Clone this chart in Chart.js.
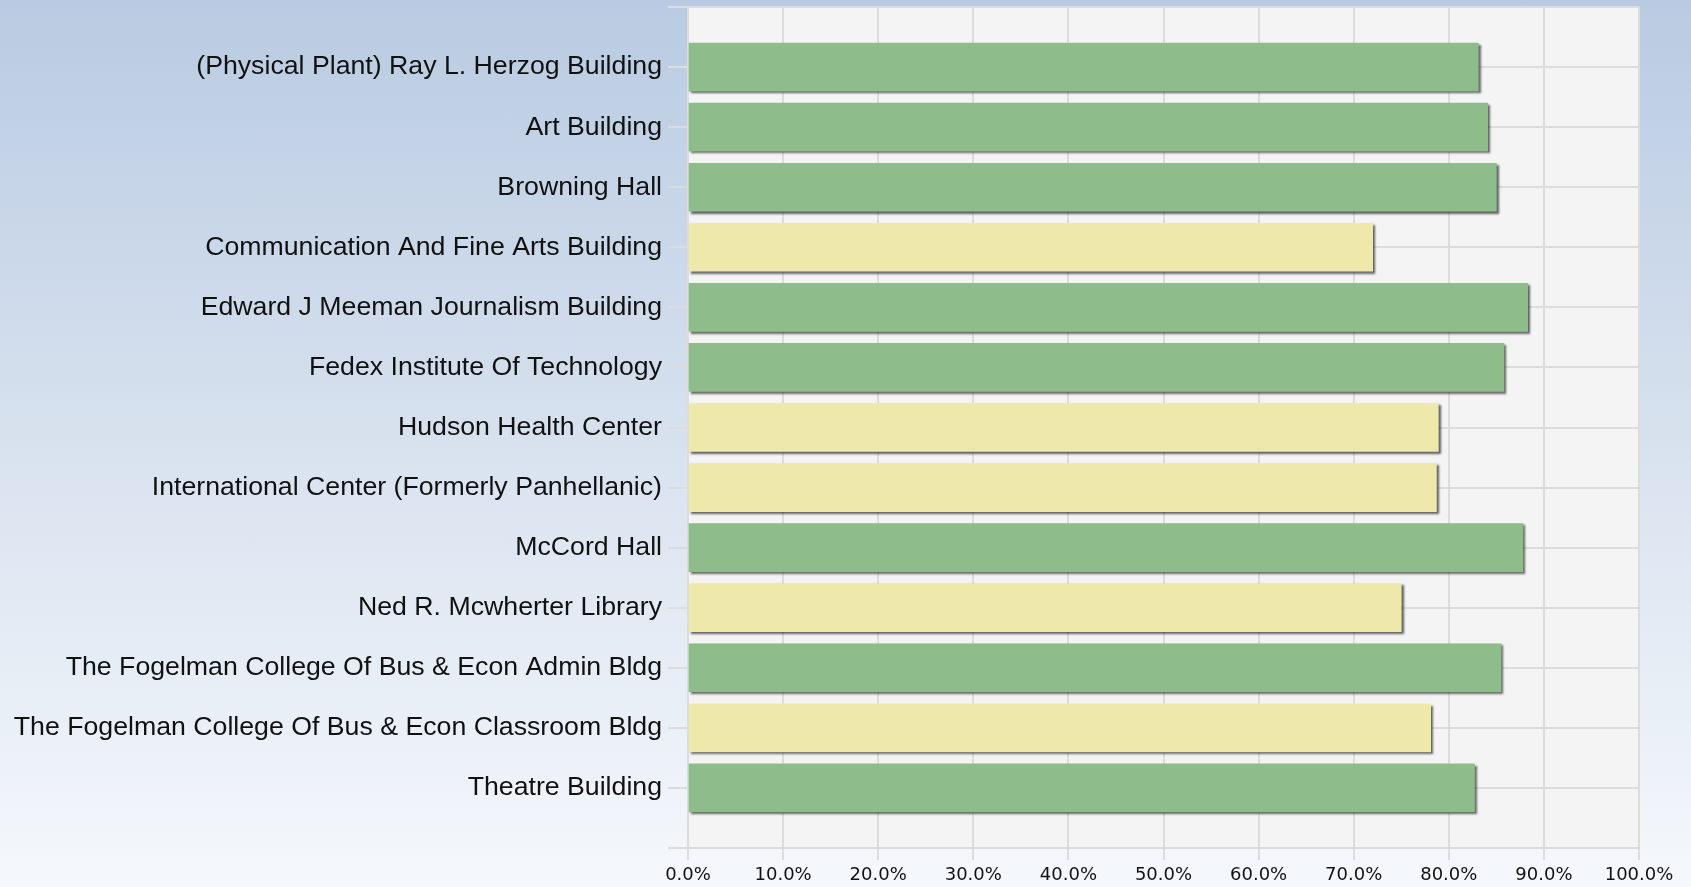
<!DOCTYPE html>
<html>
<head>
<meta charset="utf-8">
<script src="https://cdn.jsdelivr.net/npm/chart.js@4"></script>
<style>
  html, body { margin: 0; padding: 0; }
  body {
    width: 1691px;
    height: 887px;
    overflow: hidden;
    background: linear-gradient(to bottom, #b9cbe2 0%, #dbe4f0 55%, #f5f8fc 100%);
  }
  #wrap { position: relative; width: 1691px; height: 887px; }
</style>
</head>
<body>
<div id="wrap"><canvas id="chart"></canvas></div>
<script>
const buildings = [
  '(Physical Plant) Ray L. Herzog Building',
  'Art Building',
  'Browning Hall',
  'Communication And Fine Arts Building',
  'Edward J Meeman Journalism Building',
  'Fedex Institute Of Technology',
  'Hudson Health Center',
  'International Center (Formerly Panhellanic)',
  'McCord Hall',
  'Ned R. Mcwherter Library',
  'The Fogelman College Of Bus & Econ Admin Bldg',
  'The Fogelman College Of Bus & Econ Classroom Bldg',
  'Theatre Building',
]
const percentValues = [83.1, 84.1, 85.0, 72.0, 88.3, 85.8, 78.9, 78.7, 87.8, 75.0, 85.5, 78.1, 82.7]
const barStatus = ['good', 'good', 'good', 'warn', 'good', 'good', 'warn', 'warn', 'good', 'warn', 'good', 'warn', 'good']
const xTicks = [0, 10, 20, 30, 40, 50, 60, 70, 80, 90, 100]

const STATUS_COLORS = { good: '#8fbc8b', warn: '#eee8aa' }
const GRID = '#dcdcdc'

// plot area background
const plotBg = {
  id: 'plotBg',
  beforeDraw(chart) {
    const { ctx, chartArea: a } = chart
    ctx.save()
    ctx.fillStyle = '#f4f4f4'
    ctx.fillRect(a.left, a.top, a.right - a.left, a.bottom - a.top)
    ctx.restore()
  },
}

// drop shadow under the bars
const barShadow = {
  id: 'barShadow',
  beforeDatasetsDraw(chart) {
    const ctx = chart.ctx
    ctx.save()
    ctx.shadowColor = 'rgba(50,50,50,0.75)'
    ctx.shadowOffsetX = 2
    ctx.shadowOffsetY = 2
    ctx.shadowBlur = 2
  },
  afterDatasetsDraw(chart) {
    chart.ctx.restore()
  },
}

new Chart(document.getElementById('chart'), {
  type: 'bar',
  data: {
    datasets: [{
      data: buildings.map((b, i) => ({ x: percentValues[i], y: i })),
      backgroundColor: barStatus.map((s) => STATUS_COLORS[s]),
      borderWidth: 0,
      barThickness: 48,
    }],
  },
  options: {
    indexAxis: 'y',
    responsive: true,
    maintainAspectRatio: false,
    animation: false,
    layout: { padding: { top: 7, right: 52, left: 0, bottom: 0 } },
    plugins: {
      legend: { display: false },
      tooltip: { enabled: false },
    },
    scales: {
      x: {
        type: 'linear',
        position: 'bottom',
        min: 0,
        max: 100,
        afterBuildTicks: (scale) => { scale.ticks = xTicks.map((v) => ({ value: v })) },
        ticks: {
          callback: (v) => v.toFixed(1) + '%',
          color: '#111',
          font: { family: 'DejaVu Sans', size: 18 },
          padding: 5,
          maxRotation: 0,
        },
        grid: { color: GRID, lineWidth: 2, tickLength: 12 },
        border: { color: GRID, width: 2 },
        afterFit: (scale) => { scale.height = 39 },
      },
      y: {
        type: 'linear',
        reverse: true,
        offset: false,
        min: -1,
        max: buildings.length,
        afterBuildTicks: (scale) => {
          scale.ticks = Array.from({ length: buildings.length + 2 }, (_, i) => ({ value: i - 1 }))
        },
        ticks: {
          autoSkip: false,
          callback: (v) => buildings[v] ?? '',
          color: '#111',
          font: { family: 'Liberation Sans', size: 26.7 },
          padding: 6,
        },
        grid: { color: GRID, lineWidth: 2, tickLength: 20, offset: false },
        border: { color: GRID, width: 2 },
        afterFit: (scale) => {
          scale.width = 688
          scale.paddingTop = 0
          scale.paddingBottom = 0
        },
      },
    },
  },
  plugins: [plotBg, barShadow],
})
</script>
</body>
</html>
